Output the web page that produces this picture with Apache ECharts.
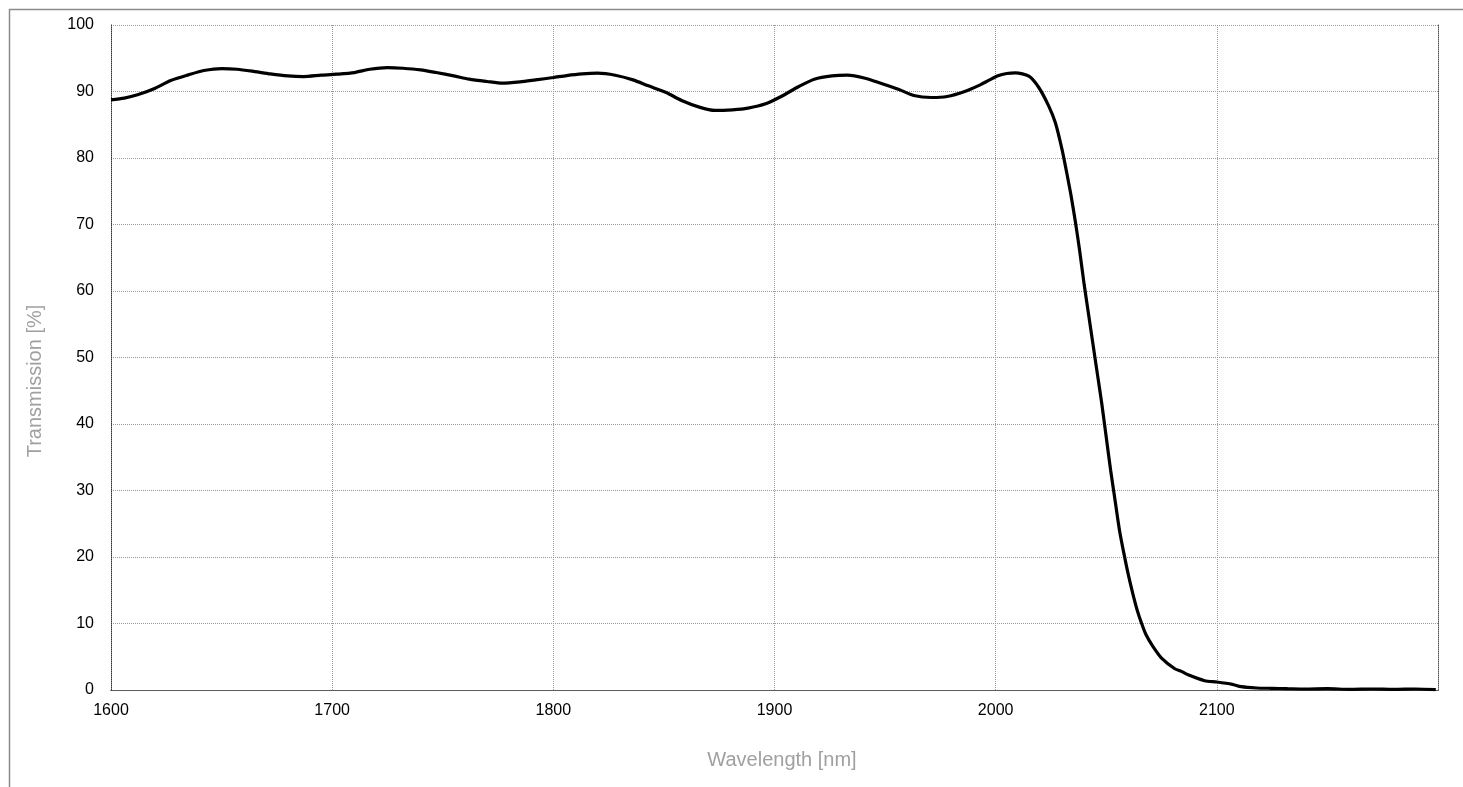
<!DOCTYPE html>
<html>
<head>
<meta charset="utf-8">
<script src="https://cdn.jsdelivr.net/npm/echarts@6/dist/echarts.min.js"></script>
<style>
html,body{margin:0;padding:0;background:#fff;}
#chart{width:1463px;height:787px;}
</style>
</head>
<body>
<div id="chart"></div>
<script>
const wavelength = [1600,1606,1612,1620,1627,1635,1642,1650,1657,1665,1672,1680,1687,1695,1702,1710,1717,1725,1732,1740,1747,1755,1762,1770,1777,1785,1792,1800,1806,1813,1820,1828,1836,1843,1851,1858,1866,1873,1881,1888,1896,1903,1911,1918,1926,1933,1941,1948,1956,1963,1971,1978,1986,1993,1997,2001,2005,2009,2015,2019.5,2024,2027,2030,2032,2034,2036,2038,2040,2042,2044,2046,2048,2050,2052,2054,2056,2058,2060,2062,2064,2066,2068,2071,2075,2081,2084,2087,2094.5,2100,2107,2111,2118,2125,2132,2140,2150,2160,2170,2180,2190,2199];
const transmission = [88.75,89.0,89.5,90.5,91.65,92.5,93.15,93.45,93.35,93.0,92.65,92.35,92.25,92.45,92.6,92.85,93.35,93.6,93.5,93.25,92.85,92.35,91.85,91.5,91.25,91.45,91.75,92.1,92.4,92.65,92.75,92.45,91.75,90.85,89.85,88.65,87.65,87.15,87.25,87.5,88.15,89.25,90.75,91.85,92.35,92.45,92.0,91.25,90.35,89.4,89.1,89.25,90.0,91.0,91.7,92.35,92.7,92.8,92.3,90.6,87.8,85.3,81.3,78.0,74.5,70.5,66,61,56.5,52,47.5,43,38,33,28.5,24,20.5,17.3,14.5,12,10,8.3,6.6,4.8,3.2,2.8,2.3,1.4,1.2,0.85,0.5,0.3,0.25,0.2,0.15,0.2,0.1,0.15,0.1,0.15,0.05];
const xTitle = 'Wavelength [nm]';
const yTitle = 'Transmission [%]';

const chart = echarts.init(document.getElementById('chart'), null, {renderer:'canvas'});
const pts = wavelength.map((w,i)=>[w, transmission[i]]);
const font = 'Liberation Sans, Arial, sans-serif';
chart.setOption({
  animation:false,
  backgroundColor:'#fff',
  grid:{left:111, top:25, right:25, bottom:97, containLabel:false},
  xAxis:[{
    type:'value', min:1600, max:2200, interval:100,
    axisLine:{show:true, onZero:false, lineStyle:{color:'#333', type:'dotted', width:1}},
    axisTick:{show:false},
    axisLabel:{color:'#000', fontSize:16, fontFamily:font, margin:13, showMaxLabel:false, formatter:v=>String(v)},
    splitLine:{show:true, lineStyle:{color:'#999', type:'dotted', width:1}}
  },{
    type:'value', min:1600, max:2200, position:'top',
    axisLine:{show:true, lineStyle:{color:'#555', type:'dotted', width:1}},
    axisTick:{show:false}, axisLabel:{show:false}, splitLine:{show:false}
  }],
  yAxis:[{
    type:'value', min:0, max:100, interval:10,
    axisLine:{show:true, onZero:false, lineStyle:{color:'#333', type:'dotted', width:1}},
    axisTick:{show:false},
    axisLabel:{color:'#000', fontSize:16, fontFamily:font, margin:17},
    splitLine:{show:true, lineStyle:{color:'#999', type:'dotted', width:1}}
  },{
    type:'value', min:0, max:100, position:'right',
    axisLine:{show:true, lineStyle:{color:'#555', type:'dotted', width:1}},
    axisTick:{show:false}, axisLabel:{show:false}, splitLine:{show:false}
  }],
  graphic:[
    {type:'rect', left:7, top:7, shape:{width:1500, height:820}, style:{fill:null, stroke:'#8c8c8c', lineWidth:1.5}, silent:true, z:-1},
    {type:'text', x:35, y:381, rotation:Math.PI/2, style:{text:yTitle, fill:'#a0a0a0', font:'20px '+font, align:'center', verticalAlign:'middle'}},
    {type:'text', x:782, y:760, style:{text:xTitle, fill:'#a0a0a0', font:'20px '+font, align:'center', verticalAlign:'middle'}}
  ],
  series:[{
    type:'line', data:pts, showSymbol:false, smooth:0.25,
    lineStyle:{color:'#000', width:3.2}, itemStyle:{color:'#000'}
  }]
});
</script>
</body>
</html>
